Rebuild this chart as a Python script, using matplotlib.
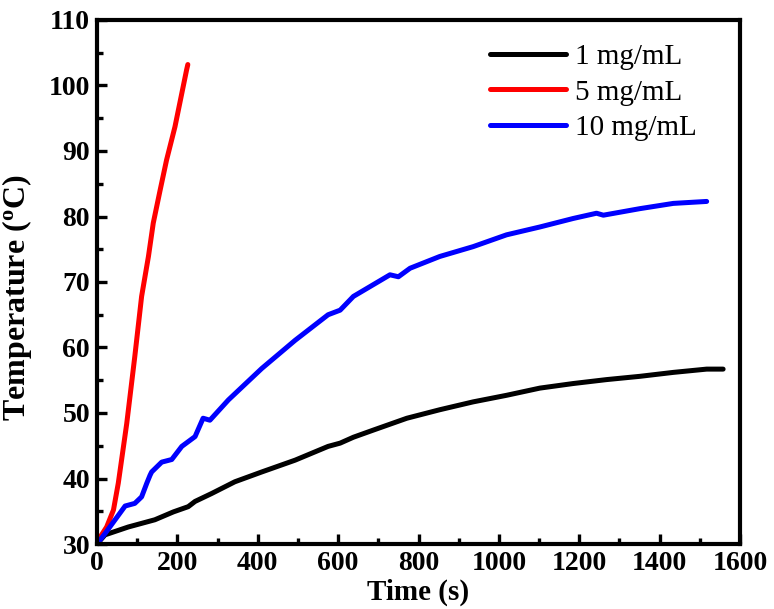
import matplotlib
matplotlib.use("Agg")
import matplotlib.pyplot as plt
from matplotlib.ticker import MultipleLocator

plt.rcParams['font.family'] = ['Liberation Serif', 'DejaVu Serif']
plt.rcParams['mathtext.fontset'] = 'custom'
plt.rcParams['mathtext.rm'] = 'Liberation Serif:bold'
plt.rcParams['mathtext.bf'] = 'Liberation Serif:bold'
plt.rcParams['mathtext.it'] = 'Liberation Serif:bold'

labels = ['1 mg/mL', '5 mg/mL', '10 mg/mL']
colors = ['#000000', '#ff0000', '#0000ff']

t1 = [0, 20, 78, 144, 190, 227, 244, 285, 343, 410, 493, 575, 605, 638, 688, 771,
      853, 936, 1019, 1102, 1185, 1268, 1351, 1434, 1517, 1558]
T1 = [30.0, 31.4, 32.6, 33.7, 34.9, 35.7, 36.5, 37.7, 39.5, 41.0, 42.8, 44.9, 45.4, 46.3, 47.4, 49.2,
      50.5, 51.7, 52.7, 53.8, 54.5, 55.1, 55.6, 56.2, 56.7, 56.7]

t5 = [0, 3, 24, 41, 53, 74, 94, 111, 128, 140, 157, 173, 194, 211, 223, 226]
T5 = [30.0, 30.6, 32.6, 35.2, 39.3, 48.4, 58.6, 67.8, 73.9, 79.0, 84.0, 88.6, 93.7, 98.8, 102.4, 103.2]

t10 = [0, 20, 45, 70, 94, 111, 124, 132, 136, 161, 186, 211, 244, 264, 281, 327, 410, 493,
       575, 605, 638, 729, 750, 779, 853, 936, 1019, 1102, 1185, 1243, 1260, 1351, 1434, 1517]
T10 = [30.0, 31.6, 33.7, 35.8, 36.2, 37.2, 39.3, 40.5, 41.0, 42.5, 42.9, 44.9, 46.4, 49.2, 48.9, 52.0, 56.8, 61.1,
       65.0, 65.7, 67.8, 71.1, 70.8, 72.1, 73.9, 75.4, 77.2, 78.4, 79.7, 80.5, 80.2, 81.2, 82.0, 82.3]

xticks = [0, 200, 400, 600, 800, 1000, 1200, 1400, 1600]
yticks = [30, 40, 50, 60, 70, 80, 90, 100, 110]

fig = plt.figure(figsize=(7.74, 6.09), dpi=100)
ax = fig.add_axes([97/774, 1-544/609, (740-97)/774, (544-20)/609])

for t, T, lab, c in zip([t1, t5, t10], [T1, T5, T10], labels, colors):
    ax.plot(t, T, color=c, lw=3.6, label=lab, solid_capstyle='round', solid_joinstyle='round')

ax.set_xlim(0, 1600)
ax.set_ylim(30, 110)
ax.set_xticks(xticks)
ax.set_yticks(yticks)
ax.xaxis.set_minor_locator(MultipleLocator(100))
ax.yaxis.set_minor_locator(MultipleLocator(5))
for s in ax.spines.values():
    s.set_linewidth(3.0)
ax.tick_params(which='major', direction='in', length=7, width=2.4, labelsize=20, pad=5)
ax.tick_params(which='minor', direction='in', length=4, width=2.4)
for lab in ax.get_xticklabels() + ax.get_yticklabels():
    lab.set_fontweight('bold')

ax.set_xlabel('Time (s)', fontsize=21, fontweight='bold', labelpad=2)
ax.set_ylabel(r'Temperature ($^{\mathbf{o}}$C)', fontsize=23, fontweight='bold')
ax.yaxis.set_label_coords(-0.098, 0.47)

leg = ax.legend(loc='upper left', bbox_to_anchor=(490/774, 1-44/609), bbox_transform=fig.transFigure,
                frameon=False, fontsize=21, handlelength=2.6, handletextpad=0.3,
                labelspacing=0.3, borderpad=0, borderaxespad=0)

fig.savefig('out.png', dpi=100)
